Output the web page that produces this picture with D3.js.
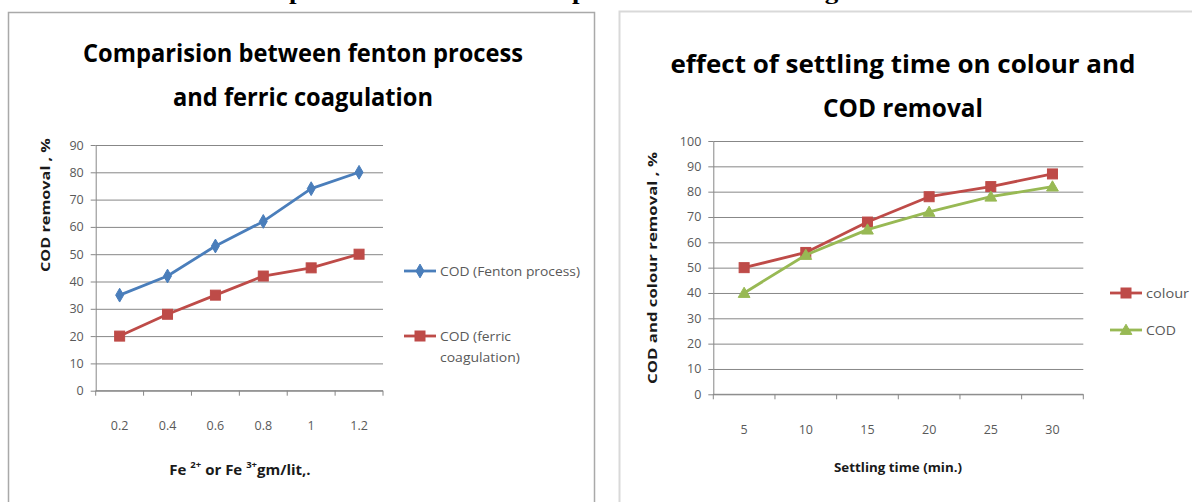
<!DOCTYPE html>
<html>
<head>
<meta charset="utf-8">
<script src="https://cdn.jsdelivr.net/npm/d3@7"></script>
<style>
  html, body { margin: 0; padding: 0; background: #fff; }
  svg { display: block; }
</style>
</head>
<body>
<svg id="chart" width="1192" height="502"></svg>
<script>
// ---------- DATA ----------
const captionText = "Comparison between Fenton process and ferric coagulation";

const leftTitle = ["Comparision between fenton process", "and ferric coagulation"];
const leftCategories = ["0.2", "0.4", "0.6", "0.8", "1", "1.2"];
const fentonCOD = [35, 42, 53, 62, 74, 80];
const ferricCOD = [20, 28, 35, 42, 45, 50];
const leftYTicks = [0, 10, 20, 30, 40, 50, 60, 70, 80, 90];
const leftYLabel = "COD removal , %";
const leftSeriesNames = ["COD (Fenton process)", "COD (ferric|coagulation)"];

const rightTitle = ["effect of settling time on colour and", "COD removal"];
const rightCategories = ["5", "10", "15", "20", "25", "30"];
const colourRemoval = [50, 56, 68, 78, 82, 87];
const codRemoval = [40, 55, 65, 72, 78, 82];
const rightYTicks = [0, 10, 20, 30, 40, 50, 60, 70, 80, 90, 100];
const rightYLabel = "COD and colour removal , %";
const rightXLabel = "Settling time (min.)";
const rightSeriesNames = ["colour", "COD"];

// ---------- STYLE ----------
const BLUE = "#4a7ebb", RED = "#be4b48", GREEN = "#98b954";
const GRID = "#878787", TICKTXT = "#595959";
const FONT = "'Open Sans', 'Noto Sans', sans-serif";

const svg = d3.select("#chart");

// top caption (cut off in the reference: only descenders visible)
const cap = svg.append("text")
  .attr("x", 0).attr("y", 0)
  .attr("font-family", "'Liberation Serif', 'DejaVu Serif', serif")
  .attr("font-weight", "bold").attr("font-size", 22)
  .attr("fill", "#000")
  .text(captionText);
{
  const p0 = cap.node().getStartPositionOfChar(3).x;
  const g1 = cap.node().getStartPositionOfChar(captionText.indexOf("gulation")).x;
  const s = (825 - 289) / (g1 - p0);
  cap.attr("transform", `translate(${289 - p0 * s},-1) scale(${s},1)`);
}

// panel borders
svg.append("rect").attr("x", 8.5).attr("y", 12.5).attr("width", 586).attr("height", 520)
  .attr("fill", "none").attr("stroke", "#a9a9a9").attr("stroke-width", 1.5);
svg.append("rect").attr("x", 619.5).attr("y", 11.5).attr("width", 600).attr("height", 520)
  .attr("fill", "none").attr("stroke", "#d9d9d9").attr("stroke-width", 2);

function marker(g, type, color, cx, cy) {
  if (type === "diamond") {
    g.append("path").attr("d", d3.symbol(d3.symbolDiamond, 55)())
      .attr("transform", `translate(${cx},${cy})`)
      .attr("fill", color).attr("stroke", color).attr("stroke-width", 1);
  } else if (type === "square") {
    g.append("rect").attr("x", cx - 5).attr("y", cy - 5).attr("width", 10).attr("height", 10)
      .attr("fill", color).attr("stroke", color).attr("stroke-width", 1);
  } else {
    g.append("path").attr("d", d3.symbol(d3.symbolTriangle, 60)())
      .attr("transform", `translate(${cx},${cy + 1})`)
      .attr("fill", color).attr("stroke", color).attr("stroke-width", 1);
  }
}

function drawChart(cfg) {
  const g = svg.append("g");
  const x = d3.scaleBand().domain(cfg.categories).range([cfg.x0, cfg.x1]).padding(0);
  const y = d3.scaleLinear().domain([cfg.yTicks[0], cfg.yTicks[cfg.yTicks.length - 1]]).range([cfg.y0, cfg.y1]);

  // gridlines
  const gridAxis = d3.axisLeft(y).tickValues(cfg.yTicks).tickSize(-(cfg.x1 - cfg.x0)).tickFormat("");
  const gg = g.append("g").attr("transform", `translate(${cfg.x0},0)`).call(gridAxis);
  gg.select(".domain").remove();
  gg.selectAll("line").attr("stroke", GRID).attr("stroke-width", 1);

  // y axis
  const ya = g.append("g").attr("transform", `translate(${cfg.x0},0)`)
    .call(d3.axisLeft(y).tickValues(cfg.yTicks).tickSizeInner(5).tickSizeOuter(0).tickPadding(7));
  ya.select(".domain").attr("stroke", GRID);
  ya.selectAll("line").attr("stroke", GRID);
  ya.selectAll("text").attr("font-family", FONT).attr("font-size", 12.5).attr("fill", TICKTXT);

  // x axis (category boundaries as ticks)
  const xa = g.append("g").attr("transform", `translate(0,${cfg.y0})`);
  xa.append("line").attr("x1", cfg.x0).attr("x2", cfg.x1).attr("stroke", GRID);
  const bounds = cfg.categories.map(c => x(c)).concat([cfg.x1]);
  xa.selectAll("line.tk").data(bounds).join("line").attr("class", "tk")
    .attr("x1", d => d).attr("x2", d => d).attr("y1", 0).attr("y2", 5).attr("stroke", GRID);
  xa.selectAll("text.xl").data(cfg.categories).join("text").attr("class", "xl")
    .attr("x", d => x(d) + x.bandwidth() / 2).attr("y", cfg.xLabelY - cfg.y0)
    .attr("text-anchor", "middle").attr("font-family", FONT).attr("font-size", 12.5)
    .attr("fill", TICKTXT).text(d => d);

  // series
  const cx = c => x(c) + x.bandwidth() / 2;
  cfg.series.forEach(s => {
    const line = d3.line().x((d, i) => cx(cfg.categories[i])).y(d => y(d));
    g.append("path").datum(s.values).attr("d", line)
      .attr("fill", "none").attr("stroke", s.color).attr("stroke-width", 2.8).attr("stroke-linejoin", "round");
    s.values.forEach((v, i) => marker(g, s.marker, s.color, cx(cfg.categories[i]), y(v)));
  });

  // titles
  cfg.title.forEach((t, i) => {
    g.append("text").attr("x", cfg.titleX).attr("y", cfg.titleY[i])
      .attr("text-anchor", "middle").attr("font-family", FONT).attr("font-weight", 700)
      .attr("font-size", 25).attr("fill", "#000")
      .attr("textLength", cfg.titleW[i]).attr("lengthAdjust", "spacingAndGlyphs")
      .text(t);
  });

  // y label
  g.append("text").attr("transform", `translate(${cfg.yLabelX},${cfg.yLabelY}) rotate(-90)`)
    .attr("text-anchor", "middle").attr("font-family", FONT).attr("font-weight", "bold")
    .attr("font-size", 12.5).attr("fill", "#1a1a1a")
    .attr("textLength", cfg.yLabelW).attr("lengthAdjust", "spacingAndGlyphs")
    .text(cfg.yLabel);

  // legend
  cfg.series.forEach((s, i) => {
    const ly = cfg.legendY[i];
    g.append("line").attr("x1", cfg.legendX).attr("x2", cfg.legendX + 32).attr("y1", ly).attr("y2", ly)
      .attr("stroke", s.color).attr("stroke-width", 2.8);
    marker(g, s.marker, s.color, cfg.legendX + 16, ly);
    s.name.split("|").forEach((part, j) => {
      g.append("text").attr("x", cfg.legendX + 36).attr("y", ly + 5 + j * 21)
        .attr("font-family", FONT).attr("font-size", 13.5).attr("fill", TICKTXT)
        .attr("textLength", s.nameW ? s.nameW[j] : null).attr("lengthAdjust", "spacingAndGlyphs")
        .text(part);
    });
  });
  return g;
}

const left = drawChart({
  categories: leftCategories, yTicks: leftYTicks,
  x0: 95.7, x1: 383, y0: 390.7, y1: 145,
  xLabelY: 430,
  series: [
    { values: fentonCOD, color: BLUE, marker: "diamond", name: leftSeriesNames[0], nameW: [140] },
    { values: ferricCOD, color: RED, marker: "square", name: leftSeriesNames[1], nameW: [71, 80] }
  ],
  title: leftTitle, titleX: 303, titleY: [62, 106], titleW: [440, 260],
  yLabel: leftYLabel, yLabelX: 50, yLabelY: 205, yLabelW: 134,
  legendX: 404, legendY: [271, 336]
});

// left x-axis title with superscripts
const xt = left.append("text").attr("x", 240).attr("y", 475).attr("text-anchor", "middle")
  .attr("font-family", FONT).attr("font-weight", "bold").attr("font-size", 15).attr("fill", "#1a1a1a");
xt.append("tspan").text("Fe ");
xt.append("tspan").attr("font-size", 9.5).attr("dy", -7).text("2+");
xt.append("tspan").attr("dy", 7).text("  or Fe ");
xt.append("tspan").attr("font-size", 9.5).attr("dy", -7).text("3+");
xt.append("tspan").attr("dy", 7).text("gm/lit,.");

const right = drawChart({
  categories: rightCategories, yTicks: rightYTicks,
  x0: 713.3, x1: 1083.3, y0: 394.3, y1: 141,
  xLabelY: 434,
  series: [
    { values: colourRemoval, color: RED, marker: "square", name: rightSeriesNames[0], nameW: [43] },
    { values: codRemoval, color: GREEN, marker: "triangle", name: rightSeriesNames[1], nameW: [30] }
  ],
  title: rightTitle, titleX: 903, titleY: [73, 117], titleW: [465, 160],
  yLabel: rightYLabel, yLabelX: 657, yLabelY: 268, yLabelW: 232,
  legendX: 1110, legendY: [293, 330]
});

right.append("text").attr("x", 898).attr("y", 472).attr("text-anchor", "middle")
  .attr("font-family", FONT).attr("font-weight", "bold").attr("font-size", 12.5).attr("fill", "#1a1a1a")
  .attr("textLength", 128).attr("lengthAdjust", "spacingAndGlyphs")
  .text(rightXLabel);
</script>
</body>
</html>
